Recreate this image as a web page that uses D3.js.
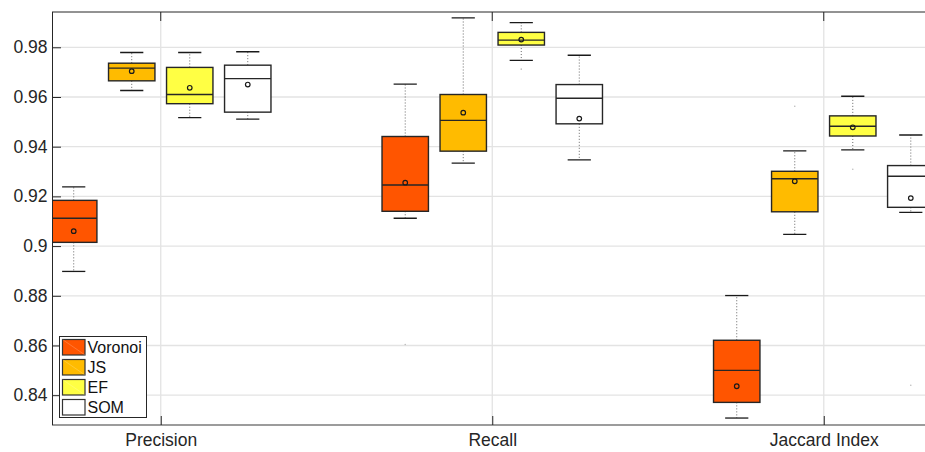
<!DOCTYPE html>
<html>
<head>
<meta charset="utf-8">
<script src="https://cdn.jsdelivr.net/npm/d3@7"></script>
<style>
  html, body { margin: 0; padding: 0; background: #fff; }
  svg { display: block; font-family: "Liberation Sans", Arial, Helvetica, sans-serif; }
</style>
</head>
<body>
<svg id="chart" width="925" height="452"></svg>
<script>
// ---- data ----
const categories = ["Precision", "Recall", "Jaccard Index"];
const methods = ["Voronoi", "JS", "EF", "SOM"];
const colors = ["#FF5500", "#FFBB00", "#FFFF44", "#FFFFFF"];
const yTicks = [0.84, 0.86, 0.88, 0.9, 0.92, 0.94, 0.96, 0.98];
const yTickLabels = ["0.84", "0.86", "0.88", "0.9", "0.92", "0.94", "0.96", "0.98"];

// per method: values for [Precision, Recall, Jaccard Index]
const whiskerLow = {
  Voronoi: [0.8898, 0.9112, 0.8308],
  JS:      [0.9626, 0.9334, 0.9047],
  EF:      [0.9517, 0.9747, 0.9387],
  SOM:     [0.9511, 0.9347, 0.9136]
};
const q1 = {
  Voronoi: [0.9015, 0.9140, 0.8371],
  JS:      [0.9665, 0.9382, 0.9138],
  EF:      [0.9573, 0.9809, 0.9443],
  SOM:     [0.9539, 0.9492, 0.9156]
};
const median = {
  Voronoi: [0.9112, 0.9246, 0.8500],
  JS:      [0.9716, 0.9506, 0.9271],
  EF:      [0.9610, 0.9829, 0.9482],
  SOM:     [0.9674, 0.9595, 0.9281]
};
const q3 = {
  Voronoi: [0.9184, 0.9441, 0.8621],
  JS:      [0.9736, 0.9610, 0.9301],
  EF:      [0.9719, 0.9860, 0.9524],
  SOM:     [0.9728, 0.9650, 0.9324]
};
const whiskerHigh = {
  Voronoi: [0.9238, 0.9652, 0.8801],
  JS:      [0.9779, 0.9918, 0.9383],
  EF:      [0.9779, 0.9899, 0.9603],
  SOM:     [0.9782, 0.9768, 0.9447]
};
const means = {
  Voronoi: [0.9060, 0.9255, 0.8436],
  JS:      [0.9704, 0.9537, 0.9261],
  EF:      [0.9637, 0.9831, 0.9478],
  SOM:     [0.9650, 0.9513, 0.9193]
};
const outliers = {
  Voronoi: [[], [0.8604], []],
  JS:      [[], [], [0.9563]],
  EF:      [[], [0.9712], [0.9309]],
  SOM:     [[], [], [0.8440]]
};

// ---- layout ----
const svg = d3.select("#chart");
const pL = 52, pT = 12, pB = 425, pR = 932.5;
const x = d3.scaleLinear().domain([0.672, 3.328]).range([pL, pR]);
const y = d3.scaleLinear().domain([0.828, 0.9942]).range([pB, pT]);
const offsets = [-0.2625, -0.0875, 0.0875, 0.2625];
const boxW = 0.14, capW = 0.07;

svg.append("defs").append("clipPath").attr("id", "clip")
  .append("rect").attr("x", pL).attr("y", pT).attr("width", pR - pL).attr("height", pB - pT);

// grid
const grid = svg.append("g");
grid.selectAll("line.gy").data(yTicks).enter().append("line")
  .attr("x1", pL).attr("x2", pR)
  .attr("y1", d => y(d)).attr("y2", d => y(d))
  .attr("stroke", "#e3e3e3").attr("stroke-width", 1.3);
grid.selectAll("line.gx").data(categories).enter().append("line")
  .attr("x1", (d, i) => x(i + 1)).attr("x2", (d, i) => x(i + 1))
  .attr("y1", pT).attr("y2", pB)
  .attr("stroke", "#e3e3e3").attr("stroke-width", 1.3);

// boxes
const plot = svg.append("g").attr("clip-path", "url(#clip)");
methods.forEach((m, mi) => {
  categories.forEach((c, ci) => {
    const cx = ci + 1 + offsets[mi];
    const g = plot.append("g");
    g.append("line").attr("x1", x(cx)).attr("x2", x(cx))
      .attr("y1", y(q3[m][ci])).attr("y2", y(whiskerHigh[m][ci]))
      .attr("stroke", "#666").attr("stroke-width", 1).attr("stroke-dasharray", "1,2");
    g.append("line").attr("x1", x(cx)).attr("x2", x(cx))
      .attr("y1", y(q1[m][ci])).attr("y2", y(whiskerLow[m][ci]))
      .attr("stroke", "#666").attr("stroke-width", 1).attr("stroke-dasharray", "1,2");
    [whiskerHigh[m][ci], whiskerLow[m][ci]].forEach(v => {
      g.append("line").attr("x1", x(cx - capW / 2)).attr("x2", x(cx + capW / 2))
        .attr("y1", y(v)).attr("y2", y(v))
        .attr("stroke", "#1a1a1a").attr("stroke-width", 1.3);
    });
    g.append("rect")
      .attr("x", x(cx - boxW / 2)).attr("width", x(cx + boxW / 2) - x(cx - boxW / 2))
      .attr("y", y(q3[m][ci])).attr("height", y(q1[m][ci]) - y(q3[m][ci]))
      .attr("fill", colors[mi]).attr("stroke", "#262626").attr("stroke-width", 1.4);
    g.append("line").attr("x1", x(cx - boxW / 2)).attr("x2", x(cx + boxW / 2))
      .attr("y1", y(median[m][ci])).attr("y2", y(median[m][ci]))
      .attr("stroke", "#262626").attr("stroke-width", 1.4);
    g.append("circle").attr("cx", x(cx)).attr("cy", y(means[m][ci])).attr("r", 2.3)
      .attr("fill", "none").attr("stroke", "#1a1a1a").attr("stroke-width", 1.2);
    outliers[m][ci].forEach(v => {
      g.append("circle").attr("cx", x(cx)).attr("cy", y(v)).attr("r", 0.8)
        .attr("fill", "#bbb");
    });
  });
});

// axes frame
svg.append("line").attr("x1", pL).attr("x2", pR).attr("y1", pT).attr("y2", pT)
  .attr("stroke", "#262626").attr("stroke-width", 1);
svg.append("line").attr("x1", pL).attr("x2", pR).attr("y1", pB).attr("y2", pB)
  .attr("stroke", "#3a3a3a").attr("stroke-width", 1.2);

// y axis
const yAxis = d3.axisLeft(y).tickValues(yTicks).tickSize(-9)
  .tickFormat((d, i) => yTickLabels[i]).tickPadding(13);
const ya = svg.append("g").attr("transform", `translate(${pL},0)`).call(yAxis);
ya.select(".domain").attr("stroke", "#262626").attr("d", `M0.5,${pT}V${pB}`);
ya.selectAll(".tick line").attr("stroke", "#262626");
ya.selectAll("text").attr("fill", "#262626").style("font-size", "17.5px")
  .attr("x", -4.5).style("font-family", "Liberation Sans, Arial, sans-serif");

// x axis (ticks inward, top and bottom)
const xa = svg.append("g").attr("transform", `translate(0,${pB})`)
  .call(d3.axisBottom(x).tickValues([1, 2, 3]).tickSize(-9).tickFormat((d, i) => categories[i]).tickPadding(12));
xa.select(".domain").remove();
xa.selectAll(".tick line").attr("stroke", "#262626");
xa.selectAll("text").attr("fill", "#262626").style("font-size", "17.5px")
  .attr("y", 0).attr("dy", "21px").style("font-family", "Liberation Sans, Arial, sans-serif");
svg.append("g").selectAll("line").data([1, 2, 3]).enter().append("line")
  .attr("x1", d => x(d)).attr("x2", d => x(d)).attr("y1", pT).attr("y2", pT + 9)
  .attr("stroke", "#262626");

// legend
const lg = svg.append("g");
lg.append("rect").attr("x", 59.5).attr("y", 336.5).attr("width", 87).attr("height", 81)
  .attr("fill", "#fff").attr("stroke", "#262626").attr("stroke-width", 1);
methods.forEach((m, i) => {
  const py = 339.5 + i * 20;
  lg.append("rect").attr("x", 62.5).attr("y", py).attr("width", 22.5).attr("height", 15.5)
    .attr("fill", colors[i]).attr("stroke", "#333").attr("stroke-width", 1.2);
  if (i < 3) {
    lg.append("line").attr("x1", 62.5).attr("y1", py).attr("x2", 85).attr("y2", py + 15.5)
      .attr("stroke", "#fff").attr("stroke-opacity", 0.25).attr("stroke-width", 0.8);
  }
  lg.append("text").attr("x", 87.5).attr("y", py + 13.8).text(m)
    .attr("fill", "#111").style("font-size", "16px");
});
</script>
</body>
</html>
